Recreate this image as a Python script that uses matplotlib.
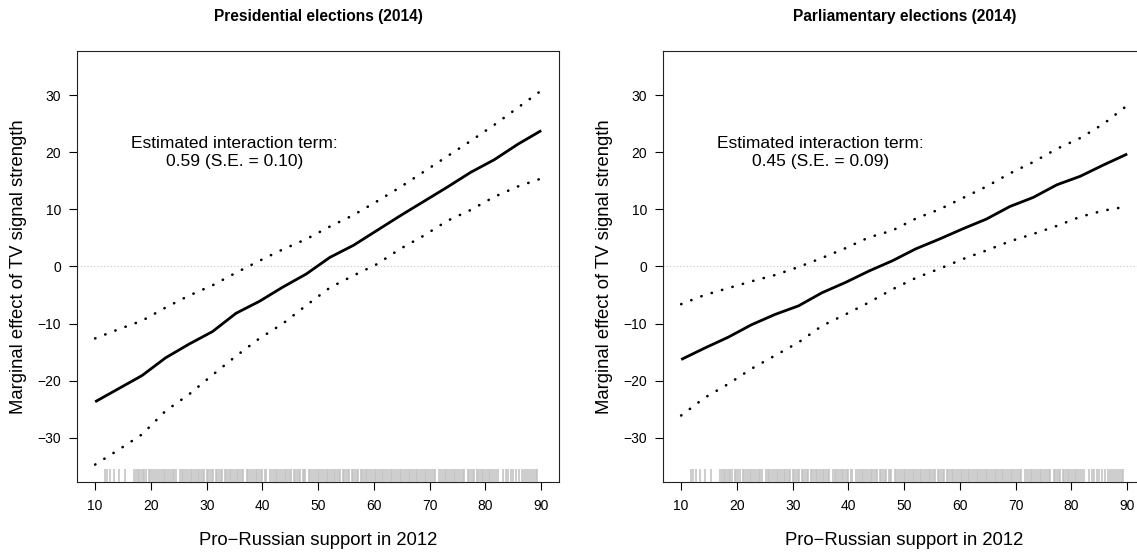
import matplotlib
matplotlib.use("Agg")
import matplotlib.pyplot as plt

plt.rcParams['font.family'] = ['Liberation Sans', 'DejaVu Sans']

# evaluation grid for the marginal effect (20 points from 10 to 90)
support = [10.0, 14.21, 18.42, 22.63, 26.84, 31.05, 35.26, 39.47, 43.68, 47.89,
           52.11, 56.32, 60.53, 64.74, 68.95, 73.16, 77.37, 81.58, 85.79, 90.0]

# presidential elections
pres_effect = [-23.7, -21.4, -19.1, -16.0, -13.6, -11.4, -8.2, -6.1, -3.6, -1.3,
               1.6, 3.7, 6.3, 8.9, 11.4, 13.9, 16.5, 18.7, 21.4, 23.8]
pres_upper = [-12.6, -11.0, -9.5, -7.2, -5.1, -3.3, -1.1, 1.0, 3.0, 4.8,
              7.0, 9.0, 11.4, 13.9, 16.6, 19.3, 22.0, 24.8, 27.8, 30.8]
pres_lower = [-34.7, -32.1, -29.4, -25.3, -22.4, -19.0, -15.7, -12.6, -10.0, -6.8,
              -3.7, -1.6, 0.4, 3.1, 5.4, 8.0, 9.9, 12.2, 14.0, 15.4]

# parliamentary elections
parl_effect = [-16.3, -14.3, -12.4, -10.2, -8.4, -6.9, -4.6, -2.8, -0.8, 1.0,
               3.1, 4.8, 6.6, 8.3, 10.5, 12.1, 14.3, 15.8, 17.8, 19.7]
parl_upper = [-6.6, -5.0, -3.8, -2.6, -1.5, -0.1, 1.5, 3.2, 5.1, 6.3,
              8.4, 10.0, 12.0, 14.0, 16.3, 18.3, 20.6, 22.5, 25.0, 28.2]
parl_lower = [-26.1, -23.0, -20.6, -17.9, -15.6, -13.3, -10.4, -8.4, -6.3, -4.0,
              -2.0, -0.4, 1.3, 2.8, 4.4, 5.7, 7.1, 8.7, 9.8, 10.5]

# observed pro-Russian support in 2012 (rug)
observed = [11.7, 12.1, 12.7, 13.3, 14.2, 15.4,
            17.0, 17.3, 17.6, 17.9, 18.3, 18.6, 18.8, 19.2, 19.6, 19.9, 20.2, 20.5,
            21.0, 21.3, 21.6, 22.0, 22.3, 22.6, 22.9, 23.2, 23.6, 23.9,
            24.2, 24.5, 25.2, 25.5, 25.8, 26.1, 26.4, 26.8, 27.1, 27.4,
            27.7, 28.0, 28.4, 28.7, 29.0, 29.3, 29.6, 30.0, 30.3, 30.6,
            30.9, 31.2, 31.6, 31.9, 32.2, 32.5, 32.8, 33.2, 33.5, 33.8,
            34.1, 34.4, 34.8, 35.1, 35.4, 35.7, 36.0, 36.4, 36.6, 37.2,
            37.5, 37.8, 38.1, 38.4, 38.8, 39.1, 39.4, 39.7, 40.0, 40.4,
            40.7, 41.4, 41.7, 42.0, 42.4, 42.7, 43.0, 43.3, 43.6, 44.0,
            44.3, 44.6, 44.9, 45.2, 45.6, 45.9, 46.2, 46.5, 46.8, 47.2,
            47.5, 47.7, 48.3, 48.6, 48.9, 49.2, 49.6, 49.9, 50.2, 50.5,
            50.8, 51.2, 51.5, 51.8, 52.1, 52.4, 52.8, 53.1, 53.4, 53.7,
            54.0, 54.4, 54.7, 55.0, 55.3, 55.6, 56.0, 56.3, 56.6, 56.9,
            57.2, 57.6, 57.9, 58.2, 58.5, 58.8, 59.2, 59.5, 59.8, 60.1,
            60.4, 60.8, 61.1, 61.4, 61.7, 62.0, 62.4, 62.7, 63.0, 63.3,
            63.6, 64.0, 64.3, 64.6, 64.9, 65.2, 65.6, 65.9, 66.2, 66.5,
            66.8, 67.2, 67.5, 67.8, 68.1, 68.4, 68.8, 69.1, 69.4, 69.7,
            70.0, 70.4, 70.7, 71.0, 71.7, 72.0, 72.4, 72.7, 73.0, 73.3,
            73.6, 74.0, 74.3, 74.6, 74.9, 75.2, 75.6, 75.9, 76.2, 76.8,
            77.1, 77.4, 77.7, 78.0, 78.4, 78.7, 79.0, 79.3, 79.6, 80.0,
            80.3, 80.6, 80.9, 81.2, 81.6, 81.9, 82.2,
            83.2, 83.6, 84.0, 84.5, 85.0, 85.4,
            86.1, 86.5, 86.9, 87.3, 87.6, 88.0, 88.3, 88.7, 89.0, 89.2]

panels = [
    ("Presidential elections (2014)", pres_effect, pres_upper, pres_lower,
     "Estimated interaction term:\n0.59 (S.E. = 0.10)"),
    ("Parliamentary elections (2014)", parl_effect, parl_upper, parl_lower,
     "Estimated interaction term:\n0.45 (S.E. = 0.09)"),
]

fig = plt.figure(figsize=(11.37, 5.53), dpi=100)
lefts = [0.0680, 0.5834]

for left, (title, effect, upper, lower, note) in zip(lefts, panels):
    ax = fig.add_axes([left, 0.1279, 0.4237, 0.7805])

    ax.axhline(0, color='#c4c4c4', lw=0.8, linestyle=(0, (1, 2)), zorder=1)
    ax.plot(support, effect, color='black', lw=2.0, solid_capstyle='butt', zorder=4)
    for bound in (upper, lower):
        ax.plot(support, bound, color='black', lw=1.9,
                linestyle=(0, (0.1, 4.0)), dash_capstyle='round', zorder=4)

    # rug of observed values along the bottom
    ax.vlines(observed, 0, 0.03, transform=ax.get_xaxis_transform(),
              color='#c2c2c2', lw=1.15, zorder=3)

    ax.text(35, 20, note, ha='center', va='center', fontsize=12.5, linespacing=1.25)

    ax.set_xlim(6.8, 93.2)
    ax.set_ylim(-37.8, 37.8)
    ax.set_xticks([10, 20, 30, 40, 50, 60, 70, 80, 90])
    ax.set_yticks([-30, -20, -10, 0, 10, 20, 30])
    ax.set_yticklabels(['\u221230', '\u221220', '\u221210', '0', '10', '20', '30'])
    ax.tick_params(direction='out', length=5.8, width=0.8, labelsize=10, pad=6)

    for spine in ax.spines.values():
        spine.set_linewidth(0.8)
        spine.set_color('#222222')

    ax.text(0.5, 1.0788, title, transform=ax.transAxes, ha='center', va='center',
            fontsize=11.2, fontweight='bold')

    ax.set_xlabel("Pro\u2212Russian support in 2012", fontsize=13.3)
    ax.xaxis.set_label_coords(0.5, -0.134)
    ax.xaxis.label.set_verticalalignment('center')
    ax.set_ylabel("Marginal effect of TV signal strength", fontsize=13.3)
    ax.yaxis.set_label_coords(-0.123, 0.5)
    ax.yaxis.label.set_verticalalignment('center')

fig.savefig("out.png", dpi=100)
